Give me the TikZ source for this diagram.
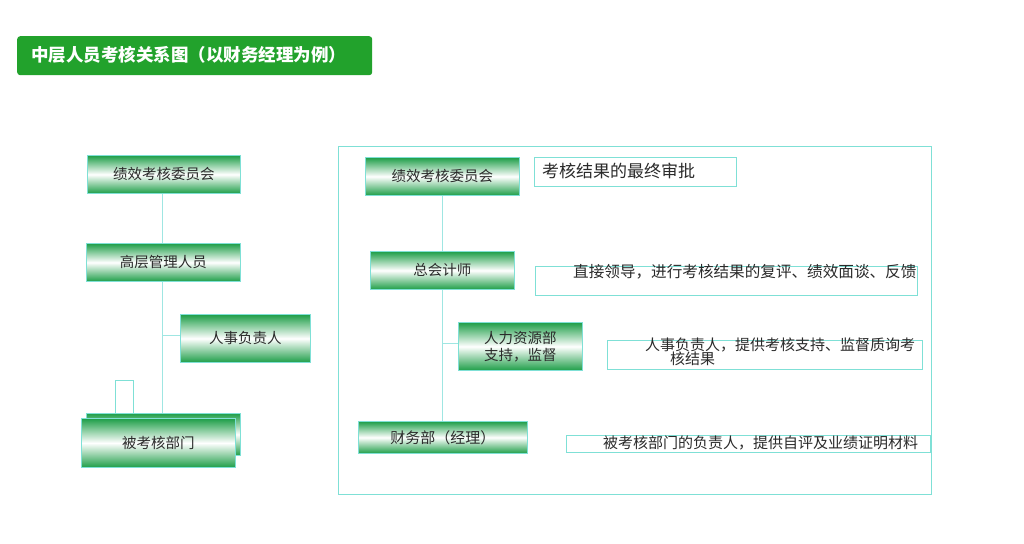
\documentclass[tikz,border=0pt]{standalone}
\usepackage{fontspec}
\setmainfont{Noto Sans CJK SC}
\definecolor{gr}{HTML}{1E9E48}
\definecolor{titlegr}{HTML}{22A22C}
\definecolor{bordc}{HTML}{7FE0D6}
\definecolor{linec}{HTML}{9FE6E2}
\definecolor{txt}{HTML}{2A2A2A}
\tikzset{
  gbox/.style={draw=bordc, line width=0.9pt, top color=gr, bottom color=gr, middle color=white,
    inner sep=0pt, anchor=north west, text=txt, align=center,
    font=\fontsize{14.5}{15}\selectfont},
  tbox/.style={draw=bordc, line width=0.9pt, fill=white, inner sep=0pt, anchor=north west},
  lbl/.style={inner sep=0pt, text=txt, anchor=west},
  conn/.style={draw=linec, line width=1pt}
}
\begin{document}
\begin{tikzpicture}[x=1pt,y=-1pt]
\useasboundingbox (0,0) rectangle (1024,543);
\fill[white] (0,0) rectangle (1024,543);
% title
\node[fill=titlegr, rounded corners=3pt, anchor=north west, minimum width=355pt, minimum height=39pt, inner sep=0pt] (title) at (17,36) {};
\node[anchor=west, inner sep=0pt, text=white, font=\bfseries\fontsize{17.5}{18}\selectfont] (titletxt) at (31,55) {中层人员考核关系图（以财务经理为例）};
% left column
\node[gbox, minimum width=153pt, minimum height=38pt] (l1) at (87,155) {绩效考核委员会};
\node[gbox, minimum width=154pt, minimum height=38pt] (l2) at (86,243) {高层管理人员};
\node[gbox, minimum width=130pt, minimum height=48pt] (l3) at (180,314) {人事负责人};
\draw[draw=bordc, line width=0.9pt, fill=white] (115,413) -- (115,380) -- (133,380) -- (133,413);
\node[gbox, minimum width=154pt, minimum height=42pt] (lback) at (86,413) {};
\node[gbox, minimum width=154pt, minimum height=49pt] (l4) at (81,418) {被考核部门};
\draw[conn] (l1.south -| 162,0) -- (l2.north -| 162,0);
\draw[conn] (l2.south -| 162,0) -- (lback.north -| 162,0);
\draw[conn] (162,335) -- (l3.west |- 162,335);
% right panel
\node[draw=bordc, line width=0.9pt, anchor=north west, minimum width=593pt, minimum height=348pt, inner sep=0pt] (panel) at (338,146) {};
\node[gbox, minimum width=154pt, minimum height=38pt] (r1) at (365,157) {绩效考核委员会};
\node[gbox, minimum width=144pt, minimum height=38pt] (r2) at (370,251) {总会计师};
\node[gbox, minimum width=124pt, minimum height=48pt, font=\fontsize{14.5}{17}\selectfont] (r3) at (458,322) {人力资源部\\支持，监督};
\node[gbox, minimum width=169pt, minimum height=32pt, font=\fontsize{15}{15}\selectfont] (r4) at (358,421) {财务部（经理）};
\draw[conn] (r1.south) -- (r2.north);
\draw[conn] (r2.south) -- (r4.north -| r2.south);
\draw[conn] (r2.south |- 0,343) -- (r3.west |- 0,343);
% description boxes
\node[tbox, minimum width=202pt, minimum height=29pt] (t1) at (534,157) {};
\node[lbl, font=\fontsize{17}{17}\selectfont] (t1a) at (542,171) {考核结果的最终审批};
\node[tbox, minimum width=382pt, minimum height=29pt] (t2) at (535,266) {};
\node[lbl, font=\fontsize{15.6}{16}\selectfont] (t2a) at (573,272) {直接领导，进行考核结果的复评、绩效面谈、反馈};
\node[tbox, minimum width=315pt, minimum height=29pt] (t3) at (607,340) {};
\node[lbl, font=\fontsize{15}{15}\selectfont] (t3a) at (645,345) {人事负责人，提供考核支持、监督质询考};
\node[lbl, font=\fontsize{15}{15}\selectfont] (t3b) at (670,359) {核结果};
\node[tbox, minimum width=364pt, minimum height=17pt] (t4) at (566,435) {};
\node[lbl, font=\fontsize{15}{15}\selectfont] (t4a) at (603,443) {被考核部门的负责人，提供自评及业绩证明材料};
\end{tikzpicture}
\end{document}
